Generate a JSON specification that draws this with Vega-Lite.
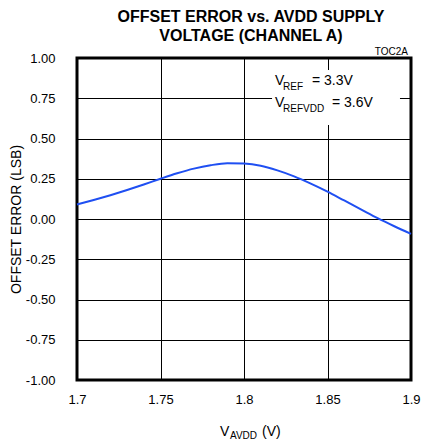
{
  "$schema": "https://vega.github.io/schema/vega-lite/v6.json",
  "autosize": {"type": "none"},
  "width": 334,
  "height": 322,
  "padding": {"left": 77, "top": 58, "right": 11, "bottom": 63},
  "background": "white",
  "config": {
    "view": {"stroke": "black", "strokeWidth": 3},
    "font": "Liberation Sans, Arial"
  },
  "title": {
    "text": ["OFFSET ERROR vs. AVDD SUPPLY", "VOLTAGE (CHANNEL A)"],
    "font": "Liberation Sans, Arial",
    "fontSize": 16,
    "fontWeight": "bold",
    "color": "black",
    "anchor": "middle",
    "dx": 7,
    "offset": 3,
    "lineHeight": 19.5
  },
  "datasets": {
    "curve": [
      {"v": 1.70, "e": 0.09},
      {"v": 1.71, "e": 0.118},
      {"v": 1.72, "e": 0.148},
      {"v": 1.73, "e": 0.18},
      {"v": 1.74, "e": 0.214},
      {"v": 1.75, "e": 0.25},
      {"v": 1.76, "e": 0.284},
      {"v": 1.77, "e": 0.313},
      {"v": 1.78, "e": 0.334},
      {"v": 1.79, "e": 0.346},
      {"v": 1.80, "e": 0.344},
      {"v": 1.81, "e": 0.331},
      {"v": 1.82, "e": 0.302},
      {"v": 1.83, "e": 0.265},
      {"v": 1.84, "e": 0.22},
      {"v": 1.85, "e": 0.17},
      {"v": 1.86, "e": 0.115},
      {"v": 1.87, "e": 0.06},
      {"v": 1.88, "e": 0.005},
      {"v": 1.89, "e": -0.045},
      {"v": 1.90, "e": -0.092}
    ],
    "box": [{"x1": 1.8168, "x2": 1.8934, "y1": 0.925, "y2": 0.584}],
    "main": [
      {"t": "V", "x": 1.8186, "y": 0.8323},
      {"t": "= 3.3V", "x": 1.8407, "y": 0.8323},
      {"t": "V", "x": 1.8186, "y": 0.6975},
      {"t": "= 3.6V", "x": 1.8527, "y": 0.6975},
      {"t": "V", "x": 1.7856, "y": -1.3478},
      {"t": "(V)", "x": 1.8108, "y": -1.3478}
    ],
    "sub": [
      {"t": "REF", "x": 1.8234, "y": 0.8012},
      {"t": "REFVDD", "x": 1.8234, "y": 0.6665},
      {"t": "AVDD", "x": 1.7916, "y": -1.3665}
    ],
    "tag": [{"t": "TOC2A", "x": 1.8982, "y": 1.0186}]
  },
  "layer": [
    {
      "data": {"name": "box"},
      "mark": {"type": "rect", "fill": "white", "stroke": null},
      "encoding": {
        "x": {"field": "x1", "type": "quantitative", "scale": {"domain": [1.7, 1.9]},
          "axis": {
            "values": [1.7, 1.75, 1.8, 1.85, 1.9],
            "format": "~g",
            "title": null,
            "domain": false,
            "ticks": false,
            "grid": true,
            "gridColor": "black",
            "gridOpacity": 1,
            "gridWidth": 1,
            "labelFontSize": 13,
            "labelColor": "black",
            "labelPadding": 13,
            "labelFlush": false
          }},
        "x2": {"field": "x2"},
        "y": {"field": "y1", "type": "quantitative", "scale": {"domain": [-1, 1]},
          "axis": {
            "values": [-1, -0.75, -0.5, -0.25, 0, 0.25, 0.5, 0.75, 1],
            "labelExpr": "replace(format(datum.value, '.2f'), '\u2212', '-')",
            "title": "OFFSET ERROR (LSB)",
            "titleFont": "Liberation Sans, Arial",
            "titleFontSize": 14,
            "titleFontWeight": "normal",
            "titleColor": "black",
            "titleX": -57,
            "titleY": 161,
            "titleAngle": -90,
            "titleAlign": "center",
            "titleBaseline": "alphabetic",
            "domain": false,
            "ticks": false,
            "grid": true,
            "gridColor": "black",
            "gridOpacity": 1,
            "gridWidth": 1,
            "labelFontSize": 13,
            "labelColor": "black",
            "labelPadding": 22,
            "labelFlush": false
          }},
        "y2": {"field": "y2"}
      }
    },
    {
      "data": {"name": "curve"},
      "mark": {"type": "line", "interpolate": "monotone", "color": "#1f4ff2", "strokeWidth": 2},
      "encoding": {
        "x": {"field": "v", "type": "quantitative"},
        "y": {"field": "e", "type": "quantitative"}
      }
    },
    {
      "data": {"name": "main"},
      "mark": {"type": "text", "align": "left", "baseline": "alphabetic", "fontSize": 14, "color": "black"},
      "encoding": {
        "x": {"field": "x", "type": "quantitative"},
        "y": {"field": "y", "type": "quantitative"},
        "text": {"field": "t"}
      }
    },
    {
      "data": {"name": "sub"},
      "mark": {"type": "text", "align": "left", "baseline": "alphabetic", "fontSize": 10, "color": "black"},
      "encoding": {
        "x": {"field": "x", "type": "quantitative"},
        "y": {"field": "y", "type": "quantitative"},
        "text": {"field": "t"}
      }
    },
    {
      "data": {"name": "tag"},
      "mark": {"type": "text", "align": "right", "baseline": "alphabetic", "fontSize": 10, "color": "black"},
      "encoding": {
        "x": {"field": "x", "type": "quantitative"},
        "y": {"field": "y", "type": "quantitative"},
        "text": {"field": "t"}
      }
    }
  ]
}
